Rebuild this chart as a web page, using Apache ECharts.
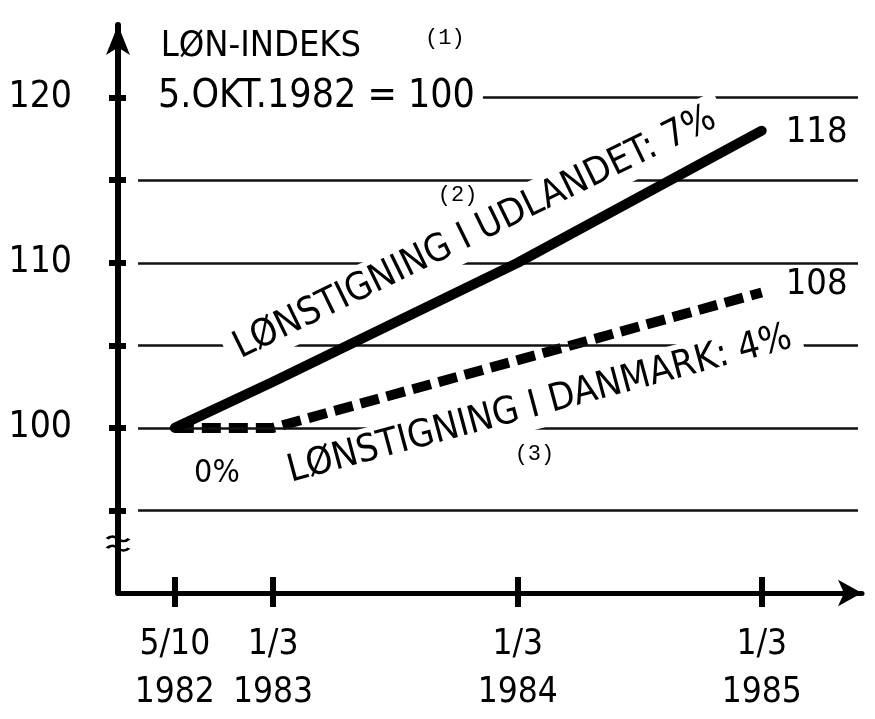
<!DOCTYPE html>
<html>
<head>
<meta charset="utf-8">
<script src="https://cdn.jsdelivr.net/npm/echarts@6/dist/echarts.min.js"></script>
<style>
html, body { margin: 0; padding: 0; background: #fff; }
#container { width: 875px; height: 719px; }
</style>
</head>
<body>
<div id="container"></div>
<script>
// x = days after 5/10 1982
var dayValues = [0, 147, 513, 878];
var dateLabels = ['5/10\n1982', '1/3\n1983', '1/3\n1984', '1/3\n1985'];
var udlandet = [100, 102.8, 110, 118];
var danmark = [100, 100, 104.1, 108.2];
var gridValues = [95, 100, 105, 110, 115, 120];
var yTickValues = [95, 100, 105, 110, 115, 120];
var yLabelValues = [100, 110, 120];
var breakValue = 93;

var FONT = "'Liberation Sans Narrow', 'DejaVu Sans Condensed', 'Liberation Sans', sans-serif";
var MONO = "'Liberation Mono', 'DejaVu Sans Mono', monospace";

// text annotations (placed in data coordinates)
var notes = [
    {x: -30, y: 123.1, text: 'LØN-INDEKS', rotate: 0, align: 'left', size: 36, font: FONT, pad: [2, 6]},
    {x: -70, y: 120.05, text: '5.OKT.1982 = 100', rotate: 0, align: 'left', size: 39, font: FONT, pad: [2, 8, 2, 30]},
    {x: 404, y: 123.6, text: '(1)', rotate: 0, align: 'center', size: 22, font: MONO, pad: [2, 6]},
    {x: 423, y: 114.1, text: '(2)', rotate: 0, align: 'center', size: 22, font: MONO, pad: [2, 6]},
    {x: 538, y: 98.4, text: '(3)', rotate: 0, align: 'center', size: 22, font: MONO, pad: [2, 6]},
    {x: 63, y: 97.2, text: '0%', rotate: 0, align: 'center', size: 32, font: FONT, pad: [2, 6]},
    {x: 449, y: 111.8, text: 'LØNSTIGNING I UDLANDET: 7%', rotate: 26, align: 'center', size: 38, font: FONT, pad: [4, 10]},
    {x: 546, y: 101.4, text: 'LØNSTIGNING I DANMARK: 4%', rotate: 15, align: 'center', size: 38, font: FONT, pad: [4, 10]}
];

function pairs(xs, ys) {
    return xs.map(function (x, i) { return [x, ys[i]]; });
}

var myChart = echarts.init(document.getElementById('container'));

var xMin = -85, xMax = 1028, yMin = 90, yMax = 124.4;

var option = {
    animation: false,
    backgroundColor: '#fff',
    grid: {
        left: 118,
        right: 13,
        top: 25,
        bottom: 126
    },
    xAxis: [{
        type: 'value',
        min: xMin,
        max: xMax,
        axisLine: {
            onZero: false,
            lineStyle: { color: '#000', width: 5 },
            symbol: ['none', 'arrow'],
            symbolSize: [20, 24]
        },
        axisTick: {
            customValues: dayValues,
            length: 14,
            lineStyle: { color: '#000', width: 6 }
        },
        axisLabel: {
            customValues: dayValues,
            formatter: function (v) {
                var i = dayValues.indexOf(v);
                return i >= 0 ? dateLabels[i] : '';
            },
            margin: 28,
            color: '#000',
            fontFamily: FONT,
            fontSize: 35,
            lineHeight: 48
        },
        splitLine: { show: false }
    }, {
        // upper half of the crossing ticks
        type: 'value',
        position: 'bottom',
        min: xMin,
        max: xMax,
        axisLine: { show: false, onZero: false },
        axisTick: {
            inside: true,
            customValues: dayValues,
            length: 16,
            lineStyle: { color: '#000', width: 6 }
        },
        axisLabel: { show: false },
        splitLine: { show: false }
    }],
    yAxis: [{
        type: 'value',
        min: yMin,
        max: yMax,
        axisLine: {
            onZero: false,
            lineStyle: { color: '#000', width: 6 },
            symbol: ['none', 'arrow'],
            symbolSize: [18, 30]
        },
        axisTick: {
            customValues: yTickValues,
            length: 9,
            lineStyle: { color: '#000', width: 6 }
        },
        axisLabel: {
            customValues: yLabelValues,
            margin: 46,
            color: '#000',
            fontFamily: FONT,
            fontSize: 37
        },
        splitLine: { show: false }
    }, {
        // right half of the crossing ticks
        type: 'value',
        position: 'left',
        min: yMin,
        max: yMax,
        axisLine: { show: false, onZero: false },
        axisTick: {
            inside: true,
            customValues: yTickValues,
            length: 8,
            lineStyle: { color: '#000', width: 6 }
        },
        axisLabel: { show: false },
        splitLine: { show: false }
    }],
    series: [
        {
            // horizontal guide lines
            type: 'line',
            data: [],
            z: 1,
            silent: true,
            markLine: {
                silent: true,
                symbol: 'none',
                label: { show: false },
                lineStyle: { color: '#111', width: 2.5, type: 'solid' },
                data: gridValues.map(function (v) {
                    return [{coord: [-55, v]}, {coord: [1022, v]}];
                })
            }
        },
        {
            name: 'Udlandet',
            type: 'line',
            data: pairs(dayValues, udlandet),
            symbol: 'none',
            z: 5,
            lineStyle: { color: '#000', width: 10, cap: 'round' },
            endLabel: {
                show: true,
                formatter: function (p) { return Math.round(p.value[1]); },
                offset: [16, 2],
                color: '#000',
                fontFamily: FONT,
                fontSize: 36
            }
        },
        {
            name: 'Danmark',
            type: 'line',
            data: pairs(dayValues, danmark),
            symbol: 'none',
            z: 4,
            lineStyle: { color: '#000', width: 10, type: [19, 8], cap: 'butt' },
            endLabel: {
                show: true,
                formatter: function (p) { return Math.round(p.value[1]); },
                offset: [16, -8],
                color: '#000',
                fontFamily: FONT,
                fontSize: 36
            }
        },
        {
            // annotations
            type: 'scatter',
            symbolSize: 0,
            silent: true,
            z: 6,
            itemStyle: { opacity: 1 },
            data: notes.map(function (n) {
                return {
                    value: [n.x, n.y],
                    label: {
                        show: true,
                        position: 'inside',
                        formatter: n.text,
                        rotate: n.rotate,
                        align: n.align,
                        verticalAlign: 'middle',
                        color: '#000',
                        fontFamily: n.font,
                        fontSize: n.size,
                        backgroundColor: '#fff',
                        padding: n.pad
                    }
                };
            })
        },
        {
            // axis break mark
            type: 'scatter',
            silent: true,
            z: 7,
            data: [[xMin, breakValue]],
            symbol: 'path://M0,4 Q6,0 12,4 T24,4 M0,12 Q6,8 12,12 T24,12',
            symbolSize: [22, 14],
            itemStyle: { opacity: 1, color: 'transparent', borderColor: '#000', borderWidth: 3 }
        }
    ]
};

myChart.setOption(option);
window.onresize = function () {
    myChart.resize();
};
</script>
</body>
</html>
